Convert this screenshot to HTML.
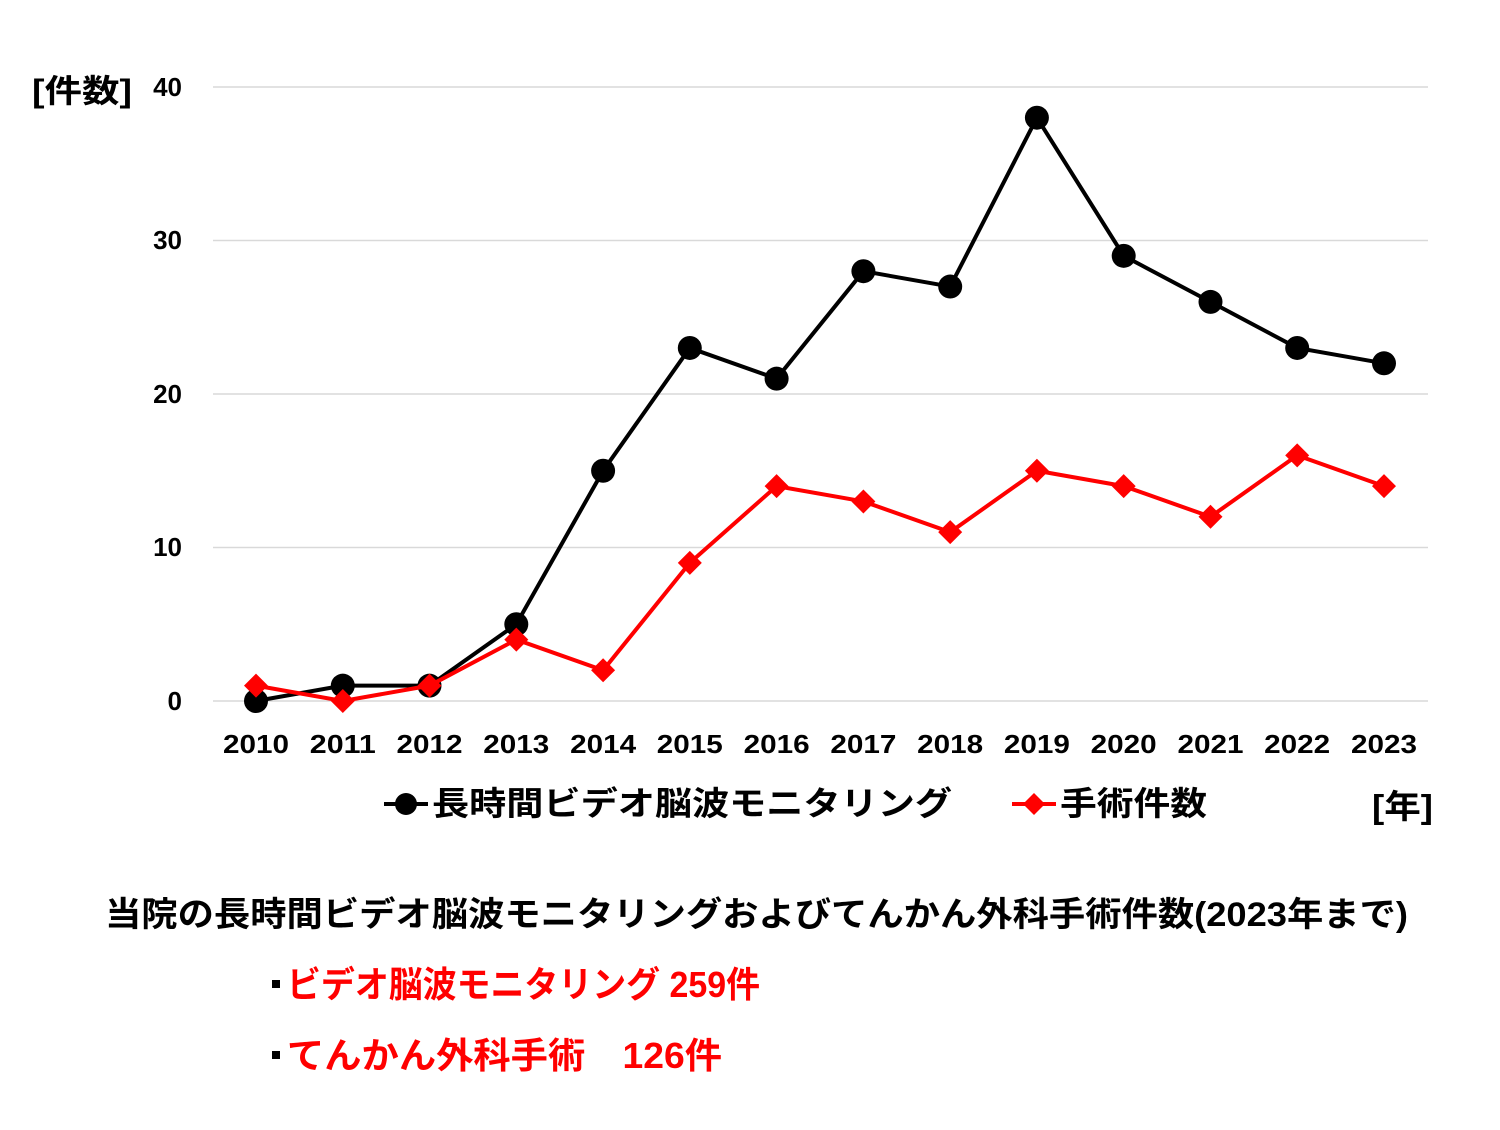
<!DOCTYPE html>
<html><head><meta charset="utf-8"><style>
body{margin:0;background:#fff;}
svg text{font-family:"Liberation Sans","Noto Sans CJK JP",sans-serif;font-weight:bold;}
</style></head><body>
<svg width="1500" height="1125" xmlns="http://www.w3.org/2000/svg">
<rect width="1500" height="1125" fill="#fff"/>
<g stroke="#d9d9d9" stroke-width="1.5">
<line x1="213" y1="87" x2="1428" y2="87"/>
<line x1="213" y1="240.5" x2="1428" y2="240.5"/>
<line x1="213" y1="394" x2="1428" y2="394"/>
<line x1="213" y1="547.5" x2="1428" y2="547.5"/>
<line x1="213" y1="701" x2="1428" y2="701"/>
</g>
<g font-size="26" text-anchor="end" fill="#000">
<text x="182" y="96">40</text>
<text x="182" y="249">30</text>
<text x="182" y="403">20</text>
<text x="182" y="556">10</text>
<text x="182" y="710">0</text>
</g>
<text x="32" y="102" font-size="32" textLength="100" lengthAdjust="spacingAndGlyphs">[件数]</text>
<g font-size="26" text-anchor="middle">
<text x="256" y="753" textLength="66" lengthAdjust="spacingAndGlyphs">2010</text><text x="342.8" y="753" textLength="66" lengthAdjust="spacingAndGlyphs">2011</text><text x="429.5" y="753" textLength="66" lengthAdjust="spacingAndGlyphs">2012</text>
<text x="516.3" y="753" textLength="66" lengthAdjust="spacingAndGlyphs">2013</text><text x="603.1" y="753" textLength="66" lengthAdjust="spacingAndGlyphs">2014</text><text x="689.8" y="753" textLength="66" lengthAdjust="spacingAndGlyphs">2015</text>
<text x="776.6" y="753" textLength="66" lengthAdjust="spacingAndGlyphs">2016</text><text x="863.4" y="753" textLength="66" lengthAdjust="spacingAndGlyphs">2017</text><text x="950.2" y="753" textLength="66" lengthAdjust="spacingAndGlyphs">2018</text>
<text x="1036.9" y="753" textLength="66" lengthAdjust="spacingAndGlyphs">2019</text><text x="1123.7" y="753" textLength="66" lengthAdjust="spacingAndGlyphs">2020</text><text x="1210.5" y="753" textLength="66" lengthAdjust="spacingAndGlyphs">2021</text>
<text x="1297.2" y="753" textLength="66" lengthAdjust="spacingAndGlyphs">2022</text><text x="1384" y="753" textLength="66" lengthAdjust="spacingAndGlyphs">2023</text>
</g>
<polyline fill="none" stroke="#000" stroke-width="4" points="256,701 342.8,685.65 429.5,685.65 516.3,624.25 603.1,470.75 689.8,347.95 776.6,378.65 863.4,271.2 950.2,286.55 1036.9,117.7 1123.7,255.85 1210.5,301.9 1297.2,347.95 1384,363.3"/>
<g fill="#000">
<circle cx="256" cy="701" r="12"/><circle cx="342.8" cy="685.65" r="12"/><circle cx="429.5" cy="685.65" r="12"/>
<circle cx="516.3" cy="624.25" r="12"/><circle cx="603.1" cy="470.75" r="12"/><circle cx="689.8" cy="347.95" r="12"/>
<circle cx="776.6" cy="378.65" r="12"/><circle cx="863.4" cy="271.2" r="12"/><circle cx="950.2" cy="286.55" r="12"/>
<circle cx="1036.9" cy="117.7" r="12"/><circle cx="1123.7" cy="255.85" r="12"/><circle cx="1210.5" cy="301.9" r="12"/>
<circle cx="1297.2" cy="347.95" r="12"/><circle cx="1384" cy="363.3" r="12"/>
</g>
<polyline fill="none" stroke="#f00" stroke-width="4" points="256,685.65 342.8,701 429.5,685.65 516.3,639.6 603.1,670.3 689.8,562.85 776.6,486.1 863.4,501.45 950.2,532.15 1036.9,470.75 1123.7,486.1 1210.5,516.8 1297.2,455.4 1384,486.1"/>
<g fill="#f00">
<path d="M0,-12 L12,0 L0,12 L-12,0Z" transform="translate(256,685.65)"/>
<path d="M0,-12 L12,0 L0,12 L-12,0Z" transform="translate(342.8,701)"/>
<path d="M0,-12 L12,0 L0,12 L-12,0Z" transform="translate(429.5,685.65)"/>
<path d="M0,-12 L12,0 L0,12 L-12,0Z" transform="translate(516.3,639.6)"/>
<path d="M0,-12 L12,0 L0,12 L-12,0Z" transform="translate(603.1,670.3)"/>
<path d="M0,-12 L12,0 L0,12 L-12,0Z" transform="translate(689.8,562.85)"/>
<path d="M0,-12 L12,0 L0,12 L-12,0Z" transform="translate(776.6,486.1)"/>
<path d="M0,-12 L12,0 L0,12 L-12,0Z" transform="translate(863.4,501.45)"/>
<path d="M0,-12 L12,0 L0,12 L-12,0Z" transform="translate(950.2,532.15)"/>
<path d="M0,-12 L12,0 L0,12 L-12,0Z" transform="translate(1036.9,470.75)"/>
<path d="M0,-12 L12,0 L0,12 L-12,0Z" transform="translate(1123.7,486.1)"/>
<path d="M0,-12 L12,0 L0,12 L-12,0Z" transform="translate(1210.5,516.8)"/>
<path d="M0,-12 L12,0 L0,12 L-12,0Z" transform="translate(1297.2,455.4)"/>
<path d="M0,-12 L12,0 L0,12 L-12,0Z" transform="translate(1384,486.1)"/>
</g>
<line x1="384" y1="804" x2="428" y2="804" stroke="#000" stroke-width="4"/>
<circle cx="406" cy="804" r="11" fill="#000"/>
<text x="432" y="815" font-size="33" textLength="520" lengthAdjust="spacingAndGlyphs">長時間ビデオ脳波モニタリング</text>
<line x1="1012" y1="804" x2="1056" y2="804" stroke="#f00" stroke-width="4"/>
<path d="M1034,793 L1045,804 L1034,815 L1023,804Z" fill="#f00"/>
<text x="1060" y="815" font-size="33" textLength="147" lengthAdjust="spacingAndGlyphs">手術件数</text>
<text x="1372" y="818" font-size="33" textLength="61" lengthAdjust="spacingAndGlyphs">[年]</text>
<text x="105" y="926" font-size="34" textLength="1303" lengthAdjust="spacingAndGlyphs">当院の長時間ビデオ脳波モニタリングおよびてんかん外科手術件数(2023年まで)</text>
<rect x="272" y="980" width="8" height="8" fill="#000"/>
<text x="287" y="997" font-size="36" fill="#f00" textLength="473" lengthAdjust="spacingAndGlyphs">ビデオ脳波モニタリング 259件</text>
<rect x="272" y="1051" width="8" height="8" fill="#000"/>
<text x="287" y="1068" font-size="36" fill="#f00" textLength="435" lengthAdjust="spacingAndGlyphs">てんかん外科手術　126件</text>
</svg>
</body></html>
